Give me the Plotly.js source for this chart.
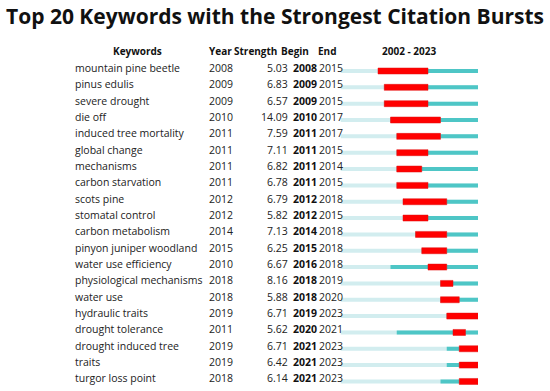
<!DOCTYPE html>
<html>
<head>
<meta charset="utf-8">
<script src="https://cdn.plot.ly/plotly-3.0.1.min.js"></script>
<style>html,body{margin:0;padding:0;background:#fff;}#chart{width:550px;height:391px;}</style>
</head>
<body>
<div id="chart"></div>
<script>
const keywords = ["mountain pine beetle","pinus edulis","severe drought","die off","induced tree mortality","global change","mechanisms","carbon starvation","scots pine","stomatal control","carbon metabolism","pinyon juniper woodland","water use efficiency","physiological mechanisms","water use","hydraulic traits","drought tolerance","drought induced tree","traits","turgor loss point"];
const years = [2008,2009,2009,2010,2011,2011,2011,2011,2012,2012,2014,2015,2010,2018,2018,2019,2011,2019,2019,2018];
const strengths = [5.03,6.83,6.57,14.09,7.59,7.11,6.82,6.78,6.79,5.82,7.13,6.25,6.67,8.16,5.88,6.71,5.62,6.71,6.42,6.14];
const begins = [2008,2009,2009,2010,2011,2011,2011,2011,2012,2012,2014,2015,2016,2018,2018,2019,2020,2021,2021,2021];
const ends = [2015,2015,2015,2017,2017,2015,2014,2015,2018,2015,2018,2018,2018,2019,2020,2023,2021,2023,2023,2023];
const startYear = 2002, endYear = 2023;
const headers = ["Keywords","Year","Strength","Begin","End"];

const W = 550, H = 391;
const rows = keywords.map((_, i) => i);
const pitch = 16.34, firstRowPx = 71;
const yTop = -firstRowPx / pitch, yBot = (H - firstRowPx) / pitch;

const traces = [
  {type:'bar', orientation:'h', y: rows, base: rows.map(()=>startYear), x: rows.map(()=>endYear+1-startYear),
   width: 4/pitch, marker:{color:'#d2edef'}, hoverinfo:'skip'},
  {type:'bar', orientation:'h', y: rows, base: years, x: years.map(v=>endYear+1-v),
   width: 4/pitch, marker:{color:'#4ec6c6'}, hoverinfo:'skip'},
  {type:'bar', orientation:'h', y: rows, base: begins, x: begins.map((b,i)=>ends[i]+1-b),
   width: 6/pitch, marker:{color:'#ff0000', line:{color:'#e01010', width:0.5}}, hoverinfo:'skip'}
];

const FAM = '"Open Sans", "Noto Sans", sans-serif';
const font = {family:FAM, size:10.5, color:'#222'};
const bfont = {family:FAM, size:10.5, color:'#111', weight:'bold'};
const hfont = {family:FAM, size:10, color:'#111', weight:'bold'};
const ann = [];
const px = v => v / W;
rows.forEach(i => {
  const common = {yref:'y', y:i, xref:'paper', showarrow:false, yshift:3, yanchor:'middle'};
  ann.push(Object.assign({x:px(72.5), xanchor:'left', text:keywords[i], font}, common));
  ann.push(Object.assign({x:px(206.5), xanchor:'left', text:String(years[i]), font}, common));
  ann.push(Object.assign({x:px(289.5), xanchor:'right', text:strengths[i].toFixed(2), font}, common));
  ann.push(Object.assign({x:px(291), xanchor:'left', text:'<b>'+begins[i]+'</b>', font:bfont}, common));
  ann.push(Object.assign({x:px(316.5), xanchor:'left', text:String(ends[i]), font}, common));
});
const hy = 1 - 51/H;
const hpos = [[137,'center'],[207,'left'],[232,'left'],[278.5,'left'],[316,'left']];
headers.forEach((h, k) => {
  ann.push({xref:'paper', yref:'paper', x:px(hpos[k][0]), y:hy, xanchor:hpos[k][1], yanchor:'middle',
    showarrow:false, text:'<b>'+h+'</b>', font:hfont});
});
ann.push({xref:'paper', yref:'paper', x:px(409), y:hy, xanchor:'center', yanchor:'middle',
  showarrow:false, text:'<b>'+startYear+' - '+endYear+'</b>', font:hfont});

const layout = {
  width: W, height: H,
  margin:{l:0, r:0, t:0, b:0},
  paper_bgcolor:'#fff', plot_bgcolor:'#fff',
  barmode:'overlay', showlegend:false,
  title:{text:'<b>Top 20 Keywords with the Strongest Citation Bursts</b>', x:0.5, xanchor:'center',
    y:1-17/H, yref:'container', yanchor:'middle',
    font:{family:FAM, size:21, color:'#111'}},
  xaxis:{range:[startYear, endYear+1], domain:[340.5/W, 478/W], visible:false, fixedrange:true},
  yaxis:{range:[yBot, yTop], visible:false, fixedrange:true},
  annotations: ann
};
Plotly.newPlot('chart', traces, layout, {staticPlot:true, displayModeBar:false});
</script>
</body>
</html>
